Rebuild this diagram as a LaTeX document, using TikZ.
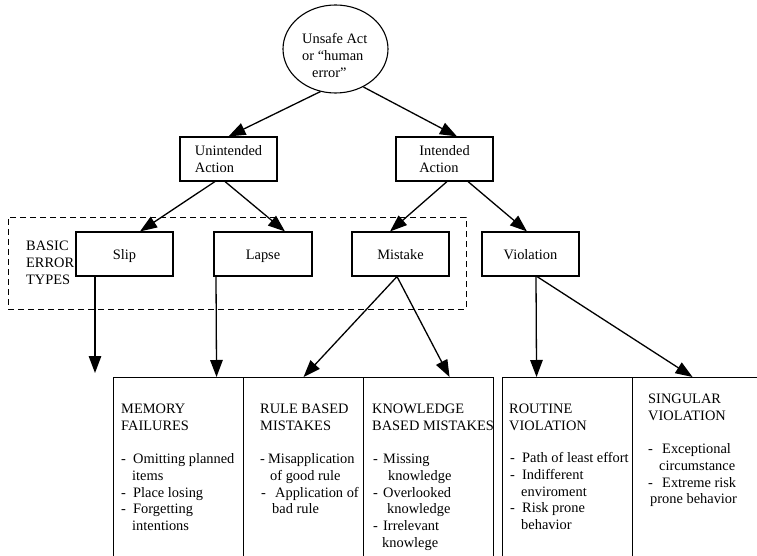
\documentclass[tikz,border=0pt]{standalone}
\usepackage{fontspec}
\setmainfont{Liberation Serif}
\usetikzlibrary{arrows.meta,shapes.geometric}
\newcommand{\dsh}[1]{\makebox[#1][l]{-}}
\begin{document}
\begin{tikzpicture}[x=1pt,y=-1pt,
  every node/.style={font=\fontsize{14.4}{16.9}\selectfont, inner sep=0pt},
  box/.style={draw, line width=1.1pt, minimum width=97pt, minimum height=44pt, align=left},
  onebox/.style={box, align=center, text height=10pt, text depth=0pt},
  colbox/.style={draw, line width=1.1pt, minimum height=203pt, anchor=north west},
  txt/.style={anchor=north west, align=left},
  arr/.style={line width=1.3pt, -{Triangle[length=17pt,width=12.5pt]}},
  grp/.style={draw, line width=0.9pt, dash pattern=on 6pt off 4pt}]
\useasboundingbox (0,0) rectangle (757,556);
\clip (0,0) rectangle (757,556);

% top ellipse
\node[ellipse, draw, line width=1.1pt, minimum width=105pt, minimum height=88pt] (ell) at (335.5,49) {};
\node[txt] (elltxt) at (302,31.2) {\strut Unsafe Act\\or “human\\\hspace{10pt}error”};

% second level
\node[box] (unint) at (228.5,159) {Unintended\\Action};
\node[box] (int) at (444.5,159) {Intended\\Action};

% basic error types group
\node[grp, minimum width=458pt, minimum height=92pt] (group) at (237,263) {};
\node[txt] (basic) at (26,238.2) {\strut BASIC\\ERROR\\TYPES};

\node[onebox] (slip) at (124.5,254) {Slip};
\node[onebox, minimum width=98pt] (lapse) at (263,254) {Lapse};
\node[onebox] (mistake) at (400.5,254) {Mistake};
\node[onebox] (viol) at (530.5,254) {Violation};

% bottom columns
\node[colbox, minimum width=130pt] (mem) at (113,377) {};
\node[colbox, minimum width=120pt] (rule) at (243,377) {};
\node[colbox, minimum width=130pt] (know) at (363,377) {};
\node[colbox, minimum width=130pt] (rout) at (502,377) {};
\node[colbox, minimum width=168pt] (sing) at (632,377) {};

% column texts
\node[txt] (memh) at (121,401.2) {\strut MEMORY\\FAILURES};
\node[txt] (meml) at (121,451.2) {\strut\dsh{12pt}Omitting planned\\\hspace{11pt}items\\\dsh{12pt}Place losing\\\dsh{12pt}Forgetting\\\hspace{11pt}intentions};

\node[txt] (ruleh) at (260,401.2) {\strut RULE BASED\\MISTAKES};
\node[txt] (rulel) at (260,451.2) {\strut\dsh{8pt}Misapplication\\\hspace{10pt}of good rule\\\hspace{1pt}\dsh{14pt}Application of\\\hspace{12pt}bad rule};

\node[txt] (knowh) at (372,401.2) {\strut KNOWLEDGE\\BASED MISTAKES};
\node[txt] (knowl) at (373,451.2) {\strut\dsh{10pt}Missing\\\hspace{15pt}knowledge\\\dsh{10pt}Overlooked\\\hspace{14pt}knowledge\\\dsh{10pt}Irrelevant\\\hspace{9pt}knowlege};

\node[txt] (routh) at (509,401.2) {\strut ROUTINE\\VIOLATION};
\node[txt] (routl) at (510,450.2) {\strut\dsh{12pt}Path of least effort\\\dsh{12pt}Indifferent\\\hspace{11pt}enviroment\\\dsh{12pt}Risk prone\\\hspace{11pt}behavior};

\node[txt] (singh) at (648,391.2) {\strut SINGULAR\\VIOLATION};
\node[txt] (singl) at (648,441.2) {\strut\dsh{14pt}Exceptional\\\hspace{11pt}circumstance\\\dsh{14pt}Extreme risk\\\hspace{2pt}prone behavior};

% connectors
\draw[arr] ([xshift=-15pt,yshift=2pt]ell.south) -- (unint.north);
\draw[arr] ([xshift=28pt,yshift=6.5pt]ell.south) -- ([xshift=12.5pt]int.north);

\draw[arr] ([xshift=-13.5pt]unint.south) -- ([xshift=15.5pt]slip.north);
\draw[arr] ([xshift=-3.5pt]unint.south) -- ([xshift=22pt]lapse.north);
\draw[arr] ([xshift=2.5pt]int.south) -- ([xshift=-10.5pt]mistake.north);
\draw[arr] ([xshift=23.5pt]int.south) -- ([xshift=-3.5pt]viol.north);

\coordinate (slipend) at (95,373);
\draw[arr] ([xshift=-29.5pt]slip.south) -- (slipend);
\draw[arr] ([xshift=-47pt]lapse.south) -- ([xshift=38pt]mem.north);
\draw[arr] ([xshift=-3.5pt]mistake.south) -- (rule.north);
\draw[arr] ([xshift=-3.5pt]mistake.south) -- ([xshift=21pt]know.north);
\draw[arr] ([xshift=5.5pt]viol.south) -- ([xshift=-31pt]rout.north);
\draw[arr] ([xshift=6.5pt]viol.south) -- ([xshift=-24pt]sing.north);
\end{tikzpicture}
\end{document}
